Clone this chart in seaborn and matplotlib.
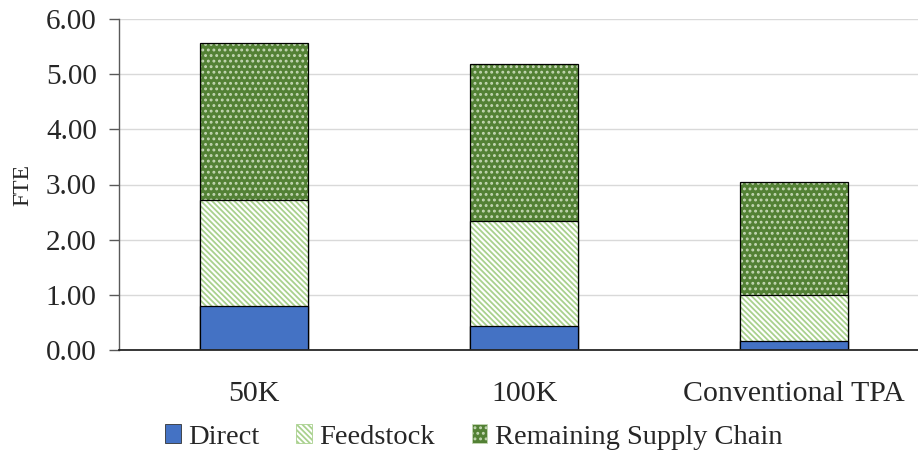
import matplotlib
matplotlib.use("Agg")
import matplotlib.pyplot as plt
import matplotlib as mpl
from matplotlib.patches import Patch
import seaborn as sns
import pandas as pd

# Data: full-time equivalents by plant scale
categories = ["50K", "100K", "Conventional TPA"]
direct = [0.80, 0.43, 0.16]
feedstock = [1.92, 1.91, 0.84]
remaining = [2.84, 2.84, 2.04]
series_names = ["Direct", "Feedstock", "Remaining Supply Chain"]
yticks = [0, 1, 2, 3, 4, 5, 6]

blue = "#4472C4"
light_green = "#A9D18E"
dark_green = "#538135"
dot_color = "#C4D7B4"
stripes = "\\" * 6
dots = "..."

sns.set_theme(style="white")
plt.rcParams["font.family"] = ["Liberation Serif", "DejaVu Serif"]
plt.rcParams["hatch.linewidth"] = 1.3

fig = plt.figure(figsize=(9.18, 4.54), dpi=100)
ax = fig.add_axes([119 / 918, 1 - 350 / 454, 1 - 119 / 918, (350 - 19) / 454])

df = pd.DataFrame({"category": categories, "Direct": direct,
                   "Feedstock": feedstock, "Remaining Supply Chain": remaining})
df["top_feed"] = df["Direct"] + df["Feedstock"]
df["top_all"] = df["top_feed"] + df["Remaining Supply Chain"]

# layers drawn tallest first so shorter segments sit on top
layers = [
    ("top_all", dark_green, dots, dot_color),
    ("top_feed", "white", stripes, light_green),
    ("Direct", blue, None, None),
]
for col, face, hatch, hcolor in layers:
    n_before = len(ax.patches)
    sns.barplot(data=df, x="category", y=col, color=face, width=0.4,
                saturation=1, edgecolor="black", linewidth=0.9, ax=ax)
    for p in ax.patches[n_before:]:
        p.set_facecolor(face)
        if hatch:
            p.set_hatch(hatch)
            p._hatch_color = mpl.colors.to_rgba(hcolor)

ax.set_xlim(-0.5, -0.5 + 799 / 270)
ax.set_ylim(0, 6)
ax.set_yticks(yticks)
ax.set_yticklabels([f"{v:.2f}" for v in yticks], fontsize=21)
ax.set_xlabel("")
ax.set_ylabel("FTE", fontsize=17, labelpad=9)
ax.tick_params(axis="x", length=0, pad=22, labelsize=21.5)
ax.tick_params(axis="y", length=7, width=1, color="#595959", direction="out",
               pad=9, left=True)
ax.yaxis.grid(True, color="#D9D9D9", linewidth=1.0)
ax.set_axisbelow(True)
for s in ["top", "right"]:
    ax.spines[s].set_visible(False)
ax.spines["left"].set_color("#595959")
ax.spines["left"].set_linewidth(1.0)
ax.spines["bottom"].set_color("#262626")
ax.spines["bottom"].set_linewidth(1.3)

handles = [
    Patch(facecolor=blue, edgecolor="#333333", linewidth=0.6),
    Patch(facecolor="white", edgecolor=light_green, hatch=stripes, linewidth=0.6),
    Patch(facecolor=dark_green, edgecolor=dot_color, hatch=dots, linewidth=0.6),
]
fig.legend(handles, series_names, loc="center", bbox_to_anchor=(0.516, 0.037),
           ncol=3, frameon=False, fontsize=20.5, handlelength=0.55,
           handleheight=0.65, handletextpad=0.25, columnspacing=1.3)

fig.savefig("out.png", dpi=100)
